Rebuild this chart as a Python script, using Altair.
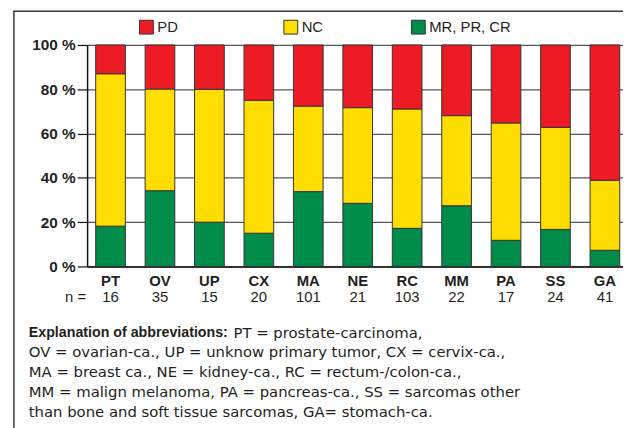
import altair as alt
import pandas as pd

categories = ["PT", "OV", "UP", "CX", "MA", "NE", "RC", "MM", "PA", "SS", "GA"]
n_values = [16, 35, 15, 20, 101, 21, 103, 22, 17, 24, 41]
mr_pr_cr = [18.2, 34.2, 20.0, 15.0, 33.8, 28.5, 17.2, 27.4, 11.8, 16.7, 7.3]
nc = [68.8, 45.9, 60.0, 60.0, 38.6, 43.2, 53.9, 40.7, 53.0, 46.1, 31.6]
pd_vals = [round(100 - a - b, 1) for a, b in zip(mr_pr_cr, nc)]
series = ["PD", "NC", "MR, PR, CR"]
colors = ["#ED1C24", "#FFDD00", "#008C4B"]
y_ticks = [0, 20, 40, 60, 80, 100]
expl_bold = "Explanation of abbreviations:"
expl_first = "PT = prostate-carcinoma,"
expl_rest = [
    "OV = ovarian-ca., UP = unknow primary tumor, CX = cervix-ca.,",
    "MA = breast ca., NE = kidney-ca., RC = rectum-/colon-ca.,",
    "MM = malign melanoma, PA = pancreas-ca., SS = sarcomas other",
    "than bone and soft tissue sarcomas, GA= stomach-ca.",
]

rows = []
for i, c in enumerate(categories):
    rows.append({"category": c, "series": "MR, PR, CR", "value": mr_pr_cr[i], "order": 0})
    rows.append({"category": c, "series": "NC", "value": nc[i], "order": 1})
    rows.append({"category": c, "series": "PD", "value": pd_vals[i], "order": 2})
df = pd.DataFrame(rows)

color_scale = alt.Scale(domain=series, range=colors)
x_scale = alt.Scale(paddingInner=0.4, paddingOuter=0.12, align=0.725)

TXT = "#231F20"
SANS = "Liberation Sans, Arial, sans-serif"

frame = alt.Chart(pd.DataFrame({"f": [0]})).mark_rect(
    fillOpacity=0, stroke="#3a3a3a", strokeWidth=1.5
).encode(x=alt.value(-74), x2=alt.value(800), y=alt.value(-34), y2=alt.value(800))

bars = alt.Chart(df).mark_bar(stroke="#333333", strokeWidth=1).encode(
    x=alt.X("category:N", sort=categories, scale=x_scale,
            axis=alt.Axis(title=None, labelAngle=0, ticks=False, labelPadding=7,
                          labelFont=SANS, labelFontWeight="bold", labelFontSize=15,
                          labelColor=TXT, domainColor="#111", domainWidth=1.5, grid=False)),
    y=alt.Y("value:Q", stack="zero", scale=alt.Scale(domain=[0, 100], nice=False),
            axis=alt.Axis(title=None, values=y_ticks, labelExpr="datum.value + ' %'",
                          labelFont=SANS, labelFontWeight="bold", labelFontSize=15.5,
                          labelColor=TXT, labelPadding=2, tickSize=10, tickColor="#111",
                          tickWidth=1.2, domainColor="#111", domainWidth=1.5,
                          grid=True, gridColor="#555555", gridWidth=1.2)),
    color=alt.Color("series:N", scale=color_scale, legend=None),
    order=alt.Order("order:Q", sort="ascending"),
)

ndf = pd.DataFrame({"category": categories, "n": n_values})
ntext = alt.Chart(ndf).mark_text(font=SANS, fontSize=15, color=TXT, baseline="middle").encode(
    x=alt.X("category:N", sort=categories, scale=x_scale, title=None),
    y=alt.value(255),
    text="n:N",
)
nlabel = alt.Chart(pd.DataFrame({"t": ["n ="]})).mark_text(
    font=SANS, fontSize=15, color=TXT, align="right", baseline="middle"
).encode(x=alt.value(-1), y=alt.value(255), text="t:N")

legend_x = [(53, 67), (199, 213), (328, 342)]
legend_layers = []
for s, (x0, x1) in zip(series, legend_x):
    ldf = pd.DataFrame({"label": [s]})
    legend_layers.append(
        alt.Chart(ldf).mark_rect(stroke="#333333", strokeWidth=1).encode(
            x=alt.value(x0), x2=alt.value(x1), y=alt.value(-25), y2=alt.value(-11),
            color=alt.Color("label:N", scale=color_scale, legend=None),
        )
    )
    legend_layers.append(
        alt.Chart(ldf).mark_text(font=SANS, fontSize=15, color=TXT, align="left",
                                 baseline="middle").encode(
            x=alt.value(x1 + 4), y=alt.value(-18), text="label:N")
    )

EFONT = "DejaVu Sans"
e1 = alt.Chart(pd.DataFrame({"t": [expl_bold]})).mark_text(
    font=SANS, fontSize=14.4, fontWeight="bold", color=TXT, align="left", baseline="middle"
).encode(x=alt.value(-59), y=alt.value(291), text="t:N")
e2 = alt.Chart(pd.DataFrame({"t": [expl_first]})).mark_text(
    font=EFONT, fontSize=15, color=TXT, align="left", baseline="middle"
).encode(x=alt.value(148), y=alt.value(291), text="t:N")
e3 = alt.Chart(pd.DataFrame({"t": ["\n".join(expl_rest)]})).mark_text(
    font=EFONT, fontSize=15, color=TXT, align="left", baseline="middle",
    lineBreak="\n", lineHeight=20
).encode(x=alt.value(-59), y=alt.value(311), text="t:N")

chart = alt.layer(frame, bars, ntext, nlabel, *legend_layers, e1, e2, e3).properties(
    width=542, height=224,
    autosize=alt.AutoSizeParams(type="none"),
    padding={"left": 80, "top": 35, "right": 0, "bottom": 161},
    background="white",
).configure_view(stroke=None)

chart.save("out.html", embed_options={"renderer": "svg", "actions": False})
